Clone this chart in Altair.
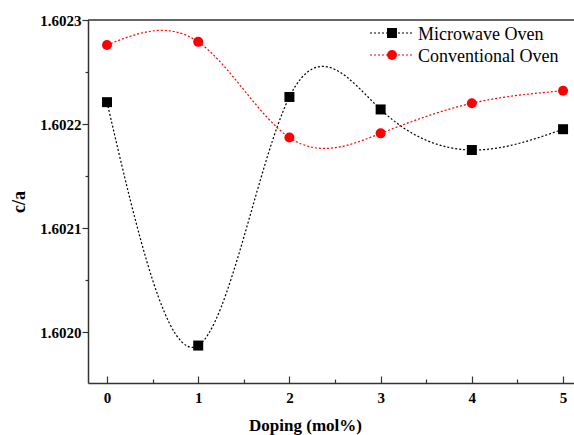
import altair as alt
import pandas as pd

# Lattice ratio c/a against doping level for the two sintering routes
doping = [0, 1, 2, 3, 4, 5]
microwave = [1.602221, 1.601987, 1.602226, 1.602214, 1.602175, 1.602195]
conventional = [1.602276, 1.602279, 1.602187, 1.602191, 1.602220, 1.602232]

series_names = ["Microwave Oven", "Conventional Oven"]
series_colors = ["#000000", "#ff0000"]
series_shapes = ["square", "circle"]

x_ticks = [0, 0.5, 1, 1.5, 2, 2.5, 3, 3.5, 4, 4.5, 5]
y_ticks = [1.6020, 1.60205, 1.6021, 1.60215, 1.6022, 1.60225, 1.6023]

W, H = 486, 363
FONT = "Liberation Serif"

df = pd.DataFrame({
    "doping": doping * 2,
    "value": microwave + conventional,
    "series": [series_names[0]] * len(doping) + [series_names[1]] * len(doping),
})

x_major = "abs(datum.value - round(datum.value)) < 0.01"
y_major = "abs(datum.value * 10000 - round(datum.value * 10000)) < 0.01"

x_enc = alt.X(
    "doping:Q",
    scale=alt.Scale(domain=[-0.2083, 5.12], nice=False, zero=False),
    axis=alt.Axis(
        orient="top",
        offset=-H,
        values=x_ticks,
        grid=False,
        domainColor="#333333",
        domainWidth=1.5,
        tickColor="#333333",
        tickWidth=1.2,
        tickSize={"condition": {"test": x_major, "value": 7}, "value": 4},
        labelExpr=f"{x_major} ? format(datum.value, 'd') : ''",
        labelBaseline="alphabetic",
        labelPadding=-26,
        labelFont=FONT,
        labelFontSize=15,
        labelFontWeight="bold",
        labelColor="#000000",
        title="Doping (mol%)",
        titleFont=FONT,
        titleFontSize=17,
        titleFontWeight="bold",
        titleColor="#000000",
        titleX=217,
        titleY=47,
        titleAlign="center",
        titleBaseline="alphabetic",
        titleAnchor="start",
    ),
)

y_enc = alt.Y(
    "value:Q",
    scale=alt.Scale(domain=[1.601951, 1.6023], nice=False, zero=False),
    axis=alt.Axis(
        values=y_ticks,
        grid=False,
        domainColor="#333333",
        domainWidth=1.5,
        tickColor="#333333",
        tickWidth=1.2,
        tickSize={"condition": {"test": y_major, "value": 6}, "value": 3},
        labelExpr=f"{y_major} ? format(datum.value, '.4f') : ''",
        labelPadding=1,
        labelFont=FONT,
        labelFontSize=15,
        labelFontWeight="bold",
        labelColor="#000000",
        title="c/a",
        titleFont=FONT,
        titleFontSize=18,
        titleFontWeight="bold",
        titleColor="#000000",
        titleX=-69,
        titleY=H / 2,
        titleAngle=270,
        titleAlign="center",
        titleBaseline="middle",
    ),
)

color_enc = alt.Color(
    "series:N",
    scale=alt.Scale(domain=series_names, range=series_colors),
    legend=None,
)

base = alt.Chart(df)

curves = base.mark_line(
    interpolate="natural", strokeDash=[2, 2], strokeWidth=1.2
).encode(x=x_enc, y=y_enc, color=color_enc, detail="series:N")

points = base.mark_point(filled=True, size=100, opacity=1).encode(
    x="doping:Q",
    y="value:Q",
    color=color_enc,
    shape=alt.Shape(
        "series:N",
        scale=alt.Scale(domain=series_names, range=series_shapes),
        legend=None,
    ),
)

# upper frame line of the plot box
frame_top = alt.Chart(pd.DataFrame({"k": [0]})).mark_rule(
    color="#333333", strokeWidth=1.5
).encode(x=alt.value(0), x2=alt.value(W), y=alt.value(0))

# hand-built legend in the upper right corner
legend_layers = []
for i, (name, col, shp) in enumerate(zip(series_names, series_colors, series_shapes)):
    row = alt.Chart(pd.DataFrame({"series": [name]}))
    yy = 13 + 22 * i
    legend_layers.append(
        row.mark_rule(color=col, strokeDash=[2, 2], strokeWidth=1.2).encode(
            x=alt.value(282), x2=alt.value(324), y=alt.value(yy)
        )
    )
    legend_layers.append(
        row.mark_point(filled=True, size=100, opacity=1, color=col, shape=shp).encode(
            x=alt.value(304), y=alt.value(yy)
        )
    )
    legend_layers.append(
        row.mark_text(
            font=FONT, fontSize=18, color="#000000", align="left", baseline="alphabetic"
        ).encode(x=alt.value(330), y=alt.value(yy + 6.5), text="series:N")
    )

chart = (
    alt.layer(curves, points, frame_top, *legend_layers)
    .properties(
        width=W,
        height=H,
        autosize=alt.AutoSizeParams(type="none"),
        padding={"left": 88, "top": 20, "right": 0, "bottom": 52},
        background="#ffffff",
    )
    .configure_view(stroke=None)
)

chart.save("out.html", embed_options={"renderer": "svg", "actions": False})
